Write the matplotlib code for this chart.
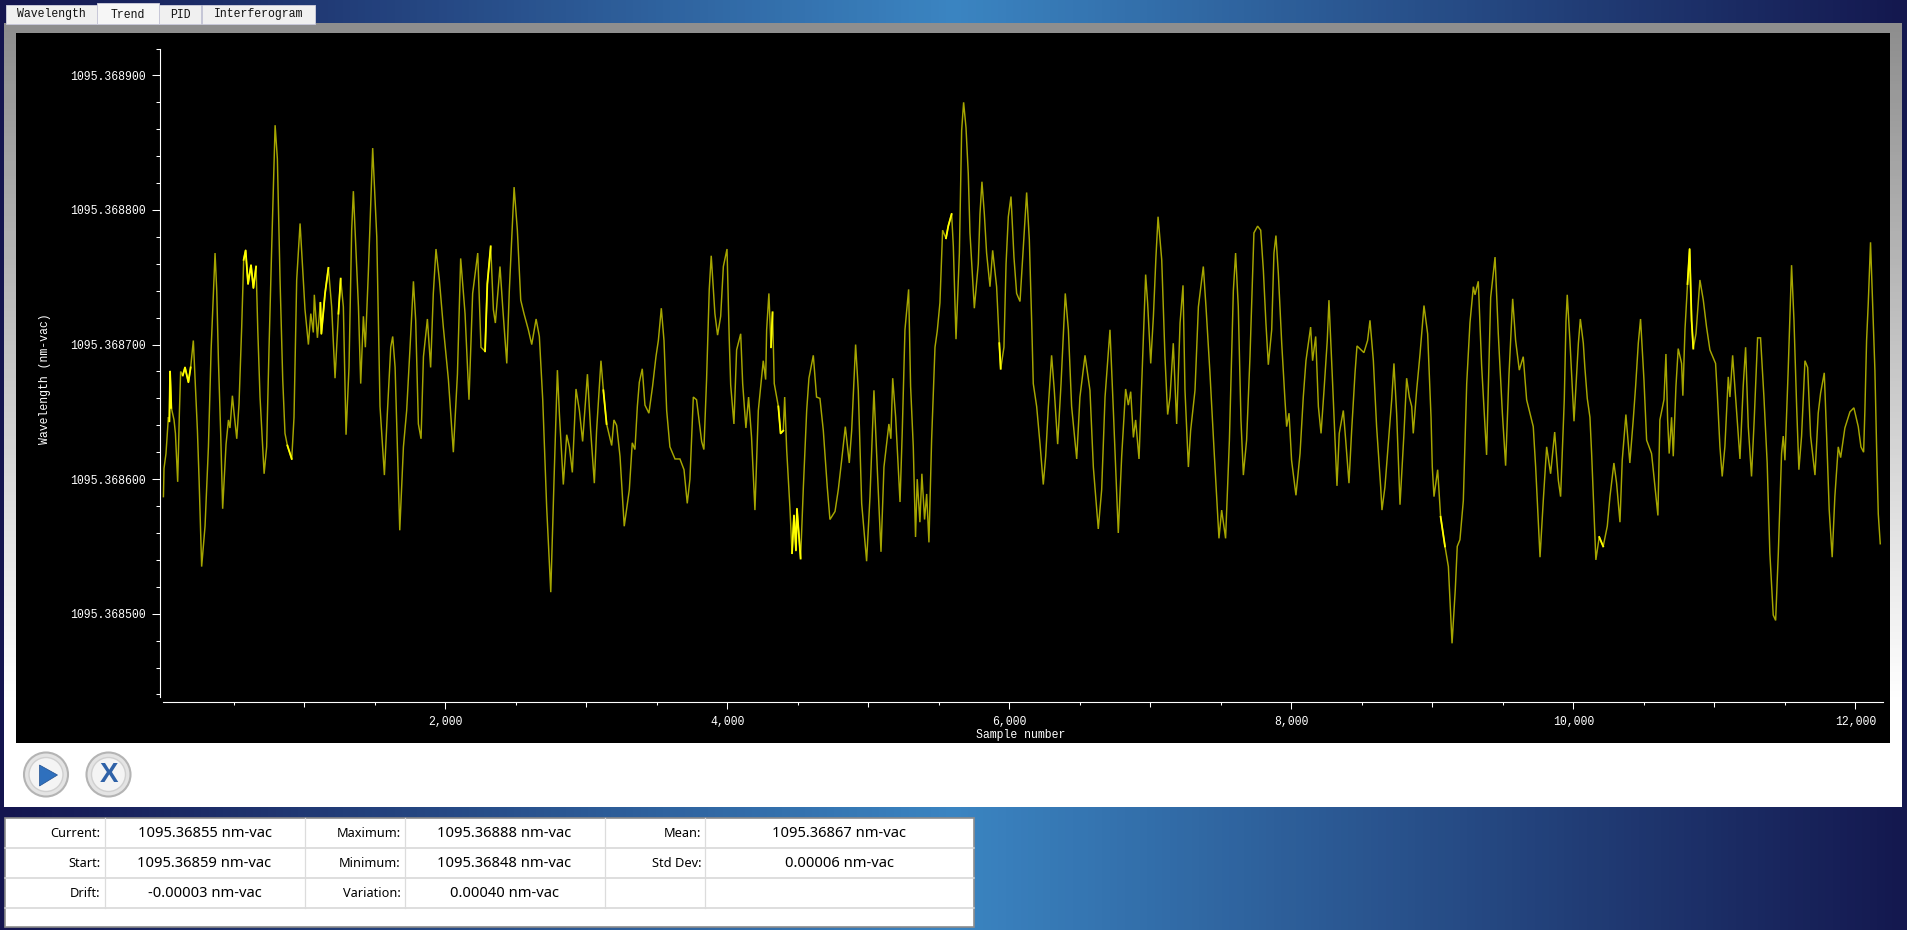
import numpy as np
import matplotlib
matplotlib.use("Agg")
import matplotlib.pyplot as plt
from matplotlib.colors import LinearSegmentedColormap
from matplotlib.patches import Rectangle, Circle, Polygon, FancyBboxPatch

# ---------- data ----------
BASE = 1095.368
samples = [
 1,5,19,36,43,48,57,76,86,102,114,123,138,154,178,194,213,225,242,254,272,296,320,339,367,379,391,407,421,445,
 462,473,490,502,521,537,556,570,584,601,622,639,658,670,686,715,733,750,769,793,809,828,847,863,880,911,927,946,970,989,
 1005,1029,1046,1064,1071,1093,1114,1121,1147,1171,1194,1218,1242,1258,1277,1296,1317,1336,1348,1365,1384,1400,1419,1433,1454,1485,1514,1537,1568,1589,
 1613,1627,1644,1677,1703,1726,1750,1774,1790,1809,1828,1845,1873,1896,1915,1934,1958,1986,2022,2057,2086,2109,2140,2168,2194,2230,2253,2282,2298,2322,
 2341,2355,2388,2407,2436,2454,2488,2511,2535,2558,2589,2613,2644,2667,2691,2719,2748,2771,2795,2809,2837,2861,2880,2901,2927,2951,2974,3008,3031,3057,
 3073,3104,3121,3144,3180,3196,3215,3239,3269,3305,3326,3345,3362,3376,3397,3416,3444,3470,3494,3511,3532,3551,3570,3593,3629,3664,3693,3716,3735,3759,
 3782,3818,3834,3853,3872,3886,3912,3931,3953,3972,3998,4014,4024,4047,4066,4095,4109,4132,4151,4172,4196,4220,4255,4272,4279,4295,4310,4321,4333,4362,
 4378,4397,4407,4421,4444,4459,4473,4487,4494,4520,4539,4563,4579,4610,4633,4657,4681,4709,4728,4764,4787,4811,4837,4865,4882,4910,4929,4953,4988,5012,
 5040,5064,5090,5111,5146,5160,5173,5194,5225,5241,5260,5286,5300,5319,5335,5347,5366,5380,5399,5414,5430,5449,5473,5489,5508,5527,5551,5567,5591,5603,
 5622,5646,5662,5676,5693,5709,5721,5752,5780,5792,5806,5823,5839,5863,5882,5910,5929,5939,5962,5977,5993,6012,6033,6052,6076,6100,6123,6142,6159,6170,
 6194,6218,6241,6258,6277,6300,6319,6343,6367,6397,6419,6442,6478,6501,6537,6572,6596,6631,6655,6679,6714,6738,6773,6797,6825,6844,6861,6880,6896,6920,
 6939,6967,6981,7003,7022,7040,7055,7081,7104,7123,7140,7163,7187,7211,7232,7246,7270,7286,7317,7341,7376,7395,7423,7452,7487,7506,7534,7561,7589,7605,
 7624,7643,7660,7683,7707,7735,7761,7783,7802,7820,7837,7861,7877,7891,7908,7932,7955,7967,7984,8002,8033,8062,8085,8104,8137,8151,8173,8192,8211,8232,
 8255,8267,8291,8310,8324,8340,8369,8385,8409,8428,8452,8466,8515,8541,8558,8582,8605,8634,8643,8664,8688,8712,8728,8747,8771,8799,8818,8837,8854,8865,
 8889,8913,8941,8967,8991,9000,9012,9038,9059,9090,9114,9140,9163,9177,9196,9220,9244,9267,9291,9303,9326,9350,9385,9414,9445,9468,9497,9520,9544,9570,
 9591,9617,9645,9669,9716,9733,9764,9787,9811,9839,9868,9894,9910,9936,9948,9957,9976,10005,10036,10050,10071,10082,10099,10118,10130,10146,10160,10184,10212,10241,
 10260,10288,10307,10331,10347,10373,10401,10425,10442,10461,10477,10501,10520,10555,10567,10600,10614,10643,10657,10669,10680,10697,10709,10728,10744,10768,10777,10792,10810,10825,
 10839,10851,10870,10898,10922,10945,10969,11009,11021,11040,11056,11075,11099,11111,11130,11151,11182,11205,11222,11241,11264,11283,11307,11328,11352,11375,11394,11418,11435,11454,
 11477,11489,11501,11524,11548,11565,11584,11600,11619,11643,11662,11683,11714,11737,11754,11780,11796,11815,11836,11855,11879,11896,11926,11962,11990,12021,12040,12059,12068,12080,
 12092,12108,12123,12139,12151,12163,12177,
]
wavelength_micro = [
 587,608,619,646,643,680,653,644,634,598,649,680,677,683,672,683,703,676,636,599,535,565,624,696,768,740,688,634,578,626,
 644,638,662,649,630,656,713,763,770,745,759,742,758,711,661,604,624,698,773,863,838,748,674,634,625,615,646,748,790,755,
 726,700,723,709,737,705,731,708,738,757,728,675,723,749,728,633,683,785,814,773,728,671,721,698,753,846,780,654,603,649,
 698,706,683,562,624,651,698,747,718,641,630,691,719,683,738,771,748,713,674,620,678,764,723,659,738,768,698,695,745,773,
 726,716,758,728,686,740,817,785,733,723,711,700,719,706,659,579,516,599,681,649,596,633,624,605,667,651,628,678,636,597,
 636,688,666,641,625,644,640,617,565,592,627,622,654,672,682,655,649,669,691,703,727,703,651,624,615,615,607,582,600,661,
 659,628,622,674,741,766,723,707,721,758,771,703,670,641,696,708,671,638,661,631,577,651,688,674,711,738,698,724,671,654,
 634,636,661,622,579,545,573,547,578,541,593,651,675,692,661,660,636,594,570,576,592,614,639,612,636,700,666,582,539,587,
 666,607,546,609,641,630,675,646,583,636,711,741,669,624,557,600,568,604,570,589,553,629,698,710,731,785,779,788,797,773,
 704,768,859,880,861,827,783,727,760,797,821,797,768,743,770,743,701,682,698,760,795,810,765,738,732,773,813,778,716,671,
 654,626,596,617,654,692,666,626,671,738,711,654,615,661,692,666,609,563,592,661,711,651,560,617,667,655,665,631,644,615,
 671,752,731,686,721,765,795,763,691,648,661,701,641,716,744,666,609,636,666,728,758,728,679,622,556,577,556,629,740,768,
 728,644,603,629,691,783,788,785,755,716,685,711,768,781,753,701,659,639,649,614,588,619,661,688,713,688,706,654,634,666,
 703,733,676,629,595,634,651,630,597,636,679,699,694,703,718,688,639,594,577,594,627,659,686,649,581,634,675,661,654,634,
 666,693,729,708,646,609,587,607,572,550,535,478,518,550,555,584,671,716,743,737,747,684,618,735,765,708,649,610,678,734,
 703,681,691,659,639,609,542,584,624,604,635,599,587,659,717,737,703,643,701,719,701,683,660,646,619,577,540,557,550,565,
 587,612,597,568,614,648,612,644,669,701,719,674,629,619,607,573,644,659,693,644,619,646,617,669,697,686,662,711,745,771,
 718,697,708,748,733,713,696,686,664,624,602,624,676,661,692,661,615,669,698,639,602,644,705,705,661,612,545,499,495,545,
 619,632,614,681,759,718,654,607,632,688,683,632,603,649,664,679,634,577,542,587,624,616,638,650,653,639,624,620,651,703,
 731,776,731,681,624,574,552,
]
y_major_values = [1095.3685, 1095.3686, 1095.3687, 1095.3688, 1095.3689]
y_major_labels = ["1095.368500", "1095.368600", "1095.368700", "1095.368800", "1095.368900"]
y_minor_values = [1095.36844 + 0.00002 * i for i in range(25)]
x_major_values = [2000, 4000, 6000, 8000, 10000, 12000]
x_major_labels = ["2,000", "4,000", "6,000", "8,000", "10,000", "12,000"]
x_mid_values = [1000, 3000, 5000, 7000, 9000, 11000]
x_minor_values = [500 * i for i in range(1, 25)]
noisy_spans = [(40,60),(125,200),(565,660),(880,915),(1105,1180),(1240,1270),(2260,2330),(3110,3150),(4300,4330),(4360,4400),
               (4450,4520),(5530,5600),(5920,5945),(6060,6080),(7003,7010),(9040,9100),(10170,10240),(10800,10860),(11360,11365),(1340,1350)]
tab_names = ["Wavelength", "Trend", "PID", "Interferogram"]
table_labels = [["Current:", "Maximum:", "Mean:"], ["Start:", "Minimum:", "Std Dev:"], ["Drift:", "Variation:", ""]]
table_values = [["1095.36855 nm-vac", "1095.36888 nm-vac", "1095.36867 nm-vac"],
                ["1095.36859 nm-vac", "1095.36848 nm-vac", "0.00006 nm-vac"],
                ["-0.00003 nm-vac", "0.00040 nm-vac", ""]]

W, H = 1907, 930
MONO = "Liberation Mono"
fig = plt.figure(figsize=(W / 100, H / 100), dpi=100)

# ---------- window chrome (pixel coordinates) ----------
bg = fig.add_axes([0, 0, 1, 1], zorder=0)
bg.set_xlim(0, W); bg.set_ylim(H, 0); bg.axis("off")
cmap = LinearSegmentedColormap.from_list("bg", ["#14154f", "#3b85c2", "#14184f"])
bg.imshow(np.linspace(0, 1, 512)[None, :], extent=[0, W, H, 0], aspect="auto", cmap=cmap, zorder=0)
gray = LinearSegmentedColormap.from_list("pn", ["#8e8e8e", "#ffffff"])
ramp = np.clip(np.linspace(0, 783 / 676, 256), 0, 1)[:, None]
bg.imshow(ramp, extent=[4, 1902, 807, 24], aspect="auto", cmap=gray, vmin=0, vmax=1, zorder=1)
bg.set_xlim(0, W); bg.set_ylim(H, 0)
bg.add_patch(Rectangle((4, 743), 1898, 64, fc="white", ec="none", zorder=2))
bg.add_patch(Rectangle((16, 33), 1874, 710, fc="black", ec="none", zorder=2))

# tabs
tab_boxes = [(6, 97, 5), (97, 159, 3), (159, 201, 5), (202, 315, 5)]
for name, (x0, x1, y0) in zip(tab_names, tab_boxes):
    bg.add_patch(Rectangle((x0, y0), x1 - x0, 24 - y0, fc="#f6f6f6" if name == "Trend" else "#f0f0f0",
                           ec="#c8c8d8", lw=0.7, zorder=3))
    bg.text((x0 + x1) / 2, 14.5, name, family=MONO, fontsize=8.3, color="#111111", ha="center", va="center", zorder=4)

# buttons
for cx in (46, 108.5):
    bg.add_patch(Circle((cx, 774.5), 22, fc="#e4e4e4", ec="#b4b4b4", lw=1.5, zorder=3))
    bg.add_patch(Circle((cx, 774.5), 17, fc="#f4f4f4", ec="#d0d0d0", lw=1, zorder=3))
bg.add_patch(Polygon([(39.5, 765), (57.5, 775), (39.5, 786)], fc="#2f70bd", ec="#1f4f90", lw=0.5, zorder=4))
bg.text(108.5, 775, "X", family="Liberation Sans", fontweight="bold", fontsize=20, color="#2f62a8",
        ha="center", va="center", zorder=4)

# statistics table
bg.add_patch(Rectangle((5, 818), 969, 109, fc="white", ec="#8c8c8c", lw=1.2, zorder=3))
for yy in (847.5, 877.5, 907.5):
    bg.plot([5, 974], [yy, yy], color="#d4d4d4", lw=1.1, zorder=4)
for xx in (104.5, 304.5, 404.5, 604.5, 704.5):
    bg.plot([xx, xx], [818, 907.5], color="#dcdcdc", lw=0.9, zorder=4)
label_right = [100.5, 400.5, 701.5]
value_center = [204.5, 504.5, 839.5]
row_center = [833, 863, 893]
for r, yy in enumerate(row_center):
    for c in range(3):
        bg.text(label_right[c], yy, table_labels[r][c], family="Noto Sans", fontweight="bold", fontsize=9.2,
                color="black", ha="right", va="center", zorder=5)
        bg.text(value_center[c], yy, table_values[r][c], family="Noto Sans", fontsize=10.6,
                color="black", ha="center", va="center", zorder=5)

# axis titles
bg.text(1021, 735, "Sample number", family=MONO, fontsize=8.3, color="white", ha="center", va="center", zorder=5)
bg.text(45.5, 379, "Wavelength (nm-vac)", family=MONO, fontsize=8.3, color="white", rotation=90,
        ha="center", va="center", zorder=5)

# ---------- plot ----------
L, R, T, B = 159.5, 1882.7, 48.5, 702.0
ax = fig.add_axes([L / W, 1 - B / H, (R - L) / W, (B - T) / H], zorder=2)
ax.set_facecolor("none")
to_x = lambda px: 2000 + (px - 445.3) * 1000 / 141.0
to_y = lambda py: 1095.3689 - (py - 75.3) * 0.0001 / 134.6
ax.set_xlim(to_x(L), to_x(R))
ax.set_ylim(to_y(B), to_y(T))

s = np.array(samples, float)
v = BASE + np.array(wavelength_micro, float) * 1e-6
ax.plot(s, v, color="#a6a600", lw=1.05, solid_joinstyle="miter", zorder=3)
mask = np.zeros(len(s), bool)
for a, b in noisy_spans:
    mask |= (s >= a) & (s <= b)
ax.plot(s, np.where(mask, v, np.nan), color="#ffff00", lw=1.3, zorder=4)

for side in ("top", "right"):
    ax.spines[side].set_visible(False)
for side in ("left", "bottom"):
    ax.spines[side].set_color("white")
    ax.spines[side].set_linewidth(0.8)
ax.spines["left"].set_bounds(to_y(697), to_y(T))
ax.spines["bottom"].set_bounds(to_x(163), to_x(R))

ax.set_yticks(y_major_values, y_major_labels)
ax.set_yticks(y_minor_values, minor=True)
ax.set_xticks(x_major_values, x_major_labels)
ax.set_xticks(x_minor_values, minor=True)
ax.tick_params(axis="y", which="major", length=8 * .72, width=0.75, color="white", labelcolor="white",
               labelsize=8.3, pad=4.3, labelfontfamily=MONO)
ax.tick_params(axis="y", which="minor", length=4 * .72, width=0.75, color="white")
ax.tick_params(axis="x", which="major", length=7 * .72, width=0.75, color="white", labelcolor="white",
               labelsize=8.3, pad=5, labelfontfamily=MONO)
ax.tick_params(axis="x", which="minor", length=3 * .72, width=0.75, color="white")
sec = ax.secondary_xaxis("bottom")
sec.spines["bottom"].set_visible(False)
sec.set_xticks(x_mid_values, [""] * len(x_mid_values))
sec.tick_params(axis="x", length=5 * .72, width=0.75, color="white")

fig.savefig("out.png", dpi=100, facecolor="black")
